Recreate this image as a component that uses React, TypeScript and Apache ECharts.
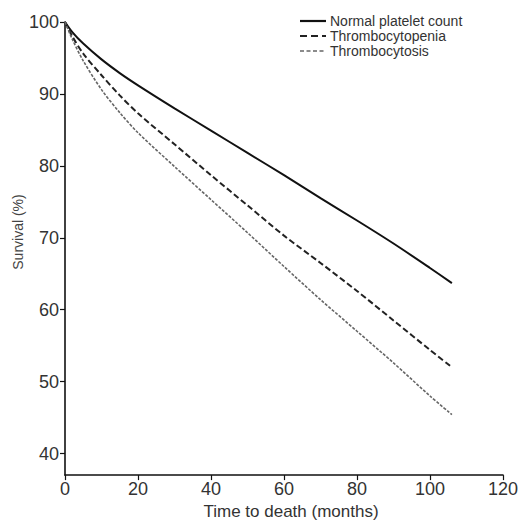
import React, { useEffect, useRef } from "react";
import * as echarts from "echarts";

const months = [0, 2, 5, 10, 15, 20, 30, 40, 50, 60, 70, 80, 90, 100, 106];
const normal = [100, 98.6, 97.0, 94.8, 92.9, 91.2, 88.0, 84.9, 81.8, 78.7, 75.5, 72.4, 69.2, 65.8, 63.7];
const thrombocytopenia = [100, 98.0, 95.6, 92.6, 89.8, 87.3, 83.0, 78.7, 74.5, 70.3, 66.5, 62.6, 58.5, 54.4, 52.0];
const thrombocytosis = [100, 97.6, 94.6, 90.6, 87.4, 84.6, 79.9, 75.3, 70.7, 66.0, 61.4, 57.0, 52.6, 48.0, 45.4];
const yTicks = [40, 50, 60, 70, 80, 90, 100];
const seriesNames = ["Normal platelet count", "Thrombocytopenia", "Thrombocytosis"];

const FONT = "'Liberation Sans', Arial, sans-serif";

const toPairs = (ys: number[]) => months.map((m, i) => [m, ys[i]]);

export default function App() {
  const ref = useRef<HTMLDivElement>(null);
  useEffect(() => {
    if (!ref.current) return;
    const chart = echarts.init(ref.current, null, { renderer: "svg" });
    const styles = [
      { color: "#111", width: 2, type: "solid" as any },
      { color: "#222", width: 2, type: [6, 3] as any },
      { color: "#666", width: 1.6, type: [3, 1.5] as any },
    ];
    const legendRows = [21, 36, 51];
    chart.setOption({
      animation: false,
      backgroundColor: "#fff",
      grid: { left: 65, right: 28, top: 22, bottom: 49, containLabel: false },
      xAxis: {
        type: "value",
        min: 0,
        max: 120,
        interval: 20,
        name: "Time to death (months)",
        nameLocation: "middle",
        nameGap: 23,
        nameTextStyle: { fontFamily: FONT, fontSize: 17, color: "#333", padding: [0, 0, 0, 14] },
        axisLine: { lineStyle: { color: "#111", width: 1.6 } },
        axisTick: { show: true, length: 5, lineStyle: { color: "#111", width: 1.2 } },
        axisLabel: { fontFamily: FONT, fontSize: 18, color: "#333", margin: 5 },
        splitLine: { show: false },
      },
      yAxis: {
        type: "value",
        min: 37,
        max: 100,
        axisLine: { show: true, lineStyle: { color: "#111", width: 1.6 } },
        axisTick: { show: true, length: 5, customValues: yTicks, lineStyle: { color: "#111", width: 1.2 } },
        axisLabel: { fontFamily: FONT, fontSize: 18, color: "#333", margin: 6, customValues: yTicks },
        splitLine: { show: false },
      },
      graphic: [
        {
          type: "text",
          x: 18,
          y: 232,
          rotation: Math.PI / 2,
          style: {
            text: "Survival (%)",
            fontFamily: FONT,
            fontSize: 14,
            fill: "#444",
            align: "center",
            verticalAlign: "middle",
          },
        },
        ...seriesNames.flatMap((name, i) => [
          {
            type: "line",
            shape: { x1: 300, y1: legendRows[i], x2: 326, y2: legendRows[i] },
            style: { stroke: styles[i].color, lineWidth: i === 2 ? 1.6 : 2.2, lineDash: i === 0 ? null : i === 1 ? [7, 4] : [4, 2.5] },
          },
          {
            type: "text",
            x: 330,
            y: legendRows[i],
            style: { text: name, fontFamily: FONT, fontSize: 14, fill: "#333", verticalAlign: "middle" },
          },
        ]),
      ],
      series: [normal, thrombocytopenia, thrombocytosis].map((ys, i) => ({
        type: "line",
        name: seriesNames[i],
        data: toPairs(ys),
        smooth: 0.3,
        showSymbol: false,
        lineStyle: styles[i],
      })),
    });
    return () => chart.dispose();
  }, []);
  return <div ref={ref} style={{ position: "fixed", left: 0, top: 0, width: 531, height: 525 }} />;
}
